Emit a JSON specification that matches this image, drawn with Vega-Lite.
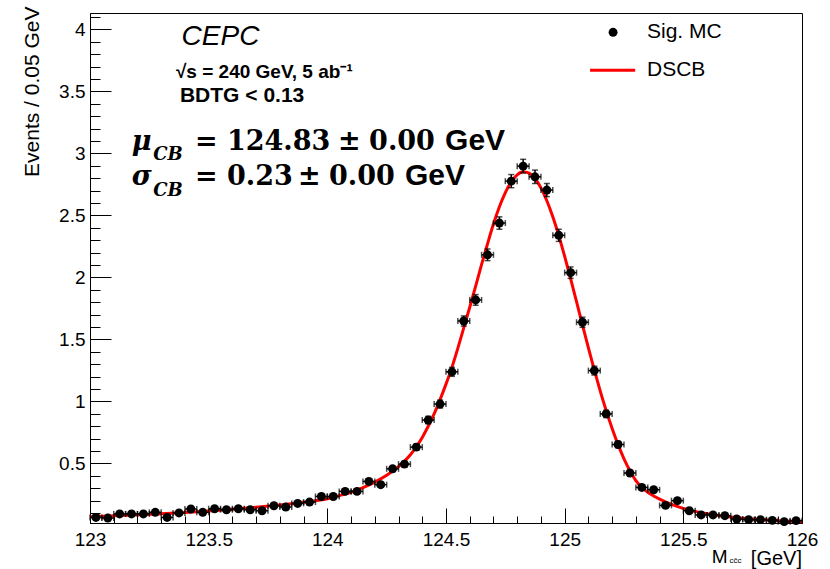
{
  "$schema": "https://vega.github.io/schema/vega-lite/v6.json",
  "width": 712,
  "height": 510,
  "autosize": {"type": "none"},
  "padding": {"left": 90, "top": 13, "right": 28, "bottom": 46},
  "background": "white",
  "config": {
    "view": {"stroke": "black", "strokeWidth": 1},
    "axis": {"domainColor": "black", "domainWidth": 1, "tickColor": "black", "tickWidth": 1, "labelColor": "black", "labelFont": "Liberation Sans", "labelFontSize": 19, "grid": false, "titleColor": "black"}
  },
  "datasets": {
    "bins": [
      {"x": 123.025, "y": 0.065, "lo": 0.057, "hi": 0.073, "xlo": 123.0, "xhi": 123.05},
      {"x": 123.075, "y": 0.060, "lo": 0.052, "hi": 0.068, "xlo": 123.05, "xhi": 123.1},
      {"x": 123.125, "y": 0.093, "lo": 0.083, "hi": 0.103, "xlo": 123.1, "xhi": 123.15},
      {"x": 123.175, "y": 0.093, "lo": 0.083, "hi": 0.103, "xlo": 123.15, "xhi": 123.2},
      {"x": 123.225, "y": 0.093, "lo": 0.083, "hi": 0.103, "xlo": 123.2, "xhi": 123.25},
      {"x": 123.275, "y": 0.106, "lo": 0.096, "hi": 0.116, "xlo": 123.25, "xhi": 123.3},
      {"x": 123.325, "y": 0.065, "lo": 0.057, "hi": 0.073, "xlo": 123.3, "xhi": 123.35},
      {"x": 123.375, "y": 0.101, "lo": 0.091, "hi": 0.111, "xlo": 123.35, "xhi": 123.4},
      {"x": 123.425, "y": 0.133, "lo": 0.121, "hi": 0.145, "xlo": 123.4, "xhi": 123.45},
      {"x": 123.475, "y": 0.106, "lo": 0.096, "hi": 0.116, "xlo": 123.45, "xhi": 123.5},
      {"x": 123.525, "y": 0.135, "lo": 0.123, "hi": 0.147, "xlo": 123.5, "xhi": 123.55},
      {"x": 123.575, "y": 0.127, "lo": 0.116, "hi": 0.138, "xlo": 123.55, "xhi": 123.6},
      {"x": 123.625, "y": 0.135, "lo": 0.123, "hi": 0.147, "xlo": 123.6, "xhi": 123.65},
      {"x": 123.675, "y": 0.127, "lo": 0.116, "hi": 0.138, "xlo": 123.65, "xhi": 123.7},
      {"x": 123.725, "y": 0.119, "lo": 0.108, "hi": 0.130, "xlo": 123.7, "xhi": 123.75},
      {"x": 123.775, "y": 0.159, "lo": 0.146, "hi": 0.172, "xlo": 123.75, "xhi": 123.8},
      {"x": 123.825, "y": 0.149, "lo": 0.137, "hi": 0.161, "xlo": 123.8, "xhi": 123.85},
      {"x": 123.875, "y": 0.178, "lo": 0.164, "hi": 0.192, "xlo": 123.85, "xhi": 123.9},
      {"x": 123.925, "y": 0.189, "lo": 0.175, "hi": 0.203, "xlo": 123.9, "xhi": 123.95},
      {"x": 123.975, "y": 0.234, "lo": 0.218, "hi": 0.250, "xlo": 123.95, "xhi": 124.0},
      {"x": 124.025, "y": 0.234, "lo": 0.218, "hi": 0.250, "xlo": 124.0, "xhi": 124.05},
      {"x": 124.075, "y": 0.275, "lo": 0.258, "hi": 0.292, "xlo": 124.05, "xhi": 124.1},
      {"x": 124.125, "y": 0.275, "lo": 0.258, "hi": 0.292, "xlo": 124.1, "xhi": 124.15},
      {"x": 124.175, "y": 0.355, "lo": 0.336, "hi": 0.374, "xlo": 124.15, "xhi": 124.2},
      {"x": 124.225, "y": 0.329, "lo": 0.311, "hi": 0.347, "xlo": 124.2, "xhi": 124.25},
      {"x": 124.275, "y": 0.457, "lo": 0.435, "hi": 0.479, "xlo": 124.25, "xhi": 124.3},
      {"x": 124.325, "y": 0.495, "lo": 0.473, "hi": 0.517, "xlo": 124.3, "xhi": 124.35},
      {"x": 124.375, "y": 0.632, "lo": 0.607, "hi": 0.657, "xlo": 124.35, "xhi": 124.4},
      {"x": 124.425, "y": 0.850, "lo": 0.820, "hi": 0.880, "xlo": 124.4, "xhi": 124.45},
      {"x": 124.475, "y": 0.979, "lo": 0.947, "hi": 1.011, "xlo": 124.45, "xhi": 124.5},
      {"x": 124.525, "y": 1.239, "lo": 1.203, "hi": 1.275, "xlo": 124.5, "xhi": 124.55},
      {"x": 124.575, "y": 1.649, "lo": 1.608, "hi": 1.690, "xlo": 124.55, "xhi": 124.6},
      {"x": 124.625, "y": 1.819, "lo": 1.776, "hi": 1.862, "xlo": 124.6, "xhi": 124.65},
      {"x": 124.675, "y": 2.183, "lo": 2.136, "hi": 2.230, "xlo": 124.65, "xhi": 124.7},
      {"x": 124.725, "y": 2.439, "lo": 2.389, "hi": 2.489, "xlo": 124.7, "xhi": 124.75},
      {"x": 124.775, "y": 2.777, "lo": 2.724, "hi": 2.830, "xlo": 124.75, "xhi": 124.8},
      {"x": 124.825, "y": 2.898, "lo": 2.843, "hi": 2.953, "xlo": 124.8, "xhi": 124.85},
      {"x": 124.875, "y": 2.812, "lo": 2.758, "hi": 2.866, "xlo": 124.85, "xhi": 124.9},
      {"x": 124.925, "y": 2.705, "lo": 2.652, "hi": 2.758, "xlo": 124.9, "xhi": 124.95},
      {"x": 124.975, "y": 2.340, "lo": 2.291, "hi": 2.389, "xlo": 124.95, "xhi": 125.0},
      {"x": 125.025, "y": 2.039, "lo": 1.993, "hi": 2.085, "xlo": 125.0, "xhi": 125.05},
      {"x": 125.075, "y": 1.639, "lo": 1.598, "hi": 1.680, "xlo": 125.05, "xhi": 125.1},
      {"x": 125.125, "y": 1.249, "lo": 1.213, "hi": 1.285, "xlo": 125.1, "xhi": 125.15},
      {"x": 125.175, "y": 0.900, "lo": 0.870, "hi": 0.930, "xlo": 125.15, "xhi": 125.2},
      {"x": 125.225, "y": 0.653, "lo": 0.627, "hi": 0.679, "xlo": 125.2, "xhi": 125.25},
      {"x": 125.275, "y": 0.423, "lo": 0.402, "hi": 0.444, "xlo": 125.25, "xhi": 125.3},
      {"x": 125.325, "y": 0.307, "lo": 0.289, "hi": 0.325, "xlo": 125.3, "xhi": 125.35},
      {"x": 125.375, "y": 0.288, "lo": 0.271, "hi": 0.305, "xlo": 125.35, "xhi": 125.4},
      {"x": 125.425, "y": 0.162, "lo": 0.149, "hi": 0.175, "xlo": 125.4, "xhi": 125.45},
      {"x": 125.475, "y": 0.200, "lo": 0.186, "hi": 0.214, "xlo": 125.45, "xhi": 125.5},
      {"x": 125.525, "y": 0.119, "lo": 0.108, "hi": 0.130, "xlo": 125.5, "xhi": 125.55},
      {"x": 125.575, "y": 0.085, "lo": 0.076, "hi": 0.094, "xlo": 125.55, "xhi": 125.6},
      {"x": 125.625, "y": 0.085, "lo": 0.076, "hi": 0.094, "xlo": 125.6, "xhi": 125.65},
      {"x": 125.675, "y": 0.079, "lo": 0.070, "hi": 0.088, "xlo": 125.65, "xhi": 125.7},
      {"x": 125.725, "y": 0.052, "lo": 0.045, "hi": 0.059, "xlo": 125.7, "xhi": 125.75},
      {"x": 125.775, "y": 0.047, "lo": 0.040, "hi": 0.054, "xlo": 125.75, "xhi": 125.8},
      {"x": 125.825, "y": 0.047, "lo": 0.040, "hi": 0.054, "xlo": 125.8, "xhi": 125.85},
      {"x": 125.875, "y": 0.041, "lo": 0.035, "hi": 0.047, "xlo": 125.85, "xhi": 125.9},
      {"x": 125.925, "y": 0.031, "lo": 0.025, "hi": 0.037, "xlo": 125.9, "xhi": 125.95},
      {"x": 125.975, "y": 0.039, "lo": 0.033, "hi": 0.045, "xlo": 125.95, "xhi": 126.0}
    ],
    "curve": [
      {"m": 123.0, "f": 0.071}, {"m": 123.1, "f": 0.078}, {"m": 123.2, "f": 0.086}, {"m": 123.3, "f": 0.095},
      {"m": 123.4, "f": 0.105}, {"m": 123.5, "f": 0.117}, {"m": 123.6, "f": 0.131}, {"m": 123.7, "f": 0.147},
      {"m": 123.8, "f": 0.166}, {"m": 123.9, "f": 0.188}, {"m": 124.0, "f": 0.215}, {"m": 124.05, "f": 0.240},
      {"m": 124.1, "f": 0.268}, {"m": 124.15, "f": 0.305}, {"m": 124.2, "f": 0.350}, {"m": 124.25, "f": 0.405},
      {"m": 124.3, "f": 0.475}, {"m": 124.35, "f": 0.570}, {"m": 124.375, "f": 0.635}, {"m": 124.4, "f": 0.710},
      {"m": 124.425, "f": 0.800}, {"m": 124.45, "f": 0.900}, {"m": 124.475, "f": 1.015}, {"m": 124.5, "f": 1.140},
      {"m": 124.525, "f": 1.275}, {"m": 124.55, "f": 1.430}, {"m": 124.575, "f": 1.595}, {"m": 124.6, "f": 1.760},
      {"m": 124.625, "f": 1.930}, {"m": 124.65, "f": 2.105}, {"m": 124.675, "f": 2.272}, {"m": 124.7, "f": 2.431},
      {"m": 124.725, "f": 2.570}, {"m": 124.75, "f": 2.685}, {"m": 124.775, "f": 2.772}, {"m": 124.8, "f": 2.828},
      {"m": 124.825, "f": 2.852}, {"m": 124.85, "f": 2.841}, {"m": 124.875, "f": 2.798}, {"m": 124.9, "f": 2.723},
      {"m": 124.925, "f": 2.619}, {"m": 124.95, "f": 2.489}, {"m": 124.975, "f": 2.338}, {"m": 125.0, "f": 2.171},
      {"m": 125.025, "f": 1.991}, {"m": 125.05, "f": 1.805}, {"m": 125.075, "f": 1.617}, {"m": 125.1, "f": 1.432},
      {"m": 125.125, "f": 1.253}, {"m": 125.15, "f": 1.084}, {"m": 125.175, "f": 0.926}, {"m": 125.2, "f": 0.782},
      {"m": 125.225, "f": 0.652}, {"m": 125.25, "f": 0.538}, {"m": 125.275, "f": 0.441}, {"m": 125.3, "f": 0.362},
      {"m": 125.325, "f": 0.308}, {"m": 125.35, "f": 0.268}, {"m": 125.375, "f": 0.238}, {"m": 125.4, "f": 0.212},
      {"m": 125.45, "f": 0.170}, {"m": 125.5, "f": 0.138}, {"m": 125.55, "f": 0.114}, {"m": 125.6, "f": 0.095},
      {"m": 125.65, "f": 0.080}, {"m": 125.7, "f": 0.068}, {"m": 125.8, "f": 0.050}, {"m": 125.9, "f": 0.039},
      {"m": 126.0, "f": 0.031}
    ]
  },
  "layer": [
    {
      "data": {"name": "curve"},
      "mark": {"type": "line", "color": "#ff0000", "strokeWidth": 3, "interpolate": "monotone"},
      "encoding": {
        "x": {"field": "m", "type": "quantitative", "title": null, "scale": {"domain": [123, 126], "nice": false, "zero": false},
          "axis": {"title": null, "tickCount": 100, "values": [123, 123.1, 123.2, 123.3, 123.4, 123.5, 123.6, 123.7, 123.8, 123.9, 124, 124.1, 124.2, 124.3, 124.4, 124.5, 124.6, 124.7, 124.8, 124.9, 125, 125.1, 125.2, 125.3, 125.4, 125.5, 125.6, 125.7, 125.8, 125.9, 126],
            "format": "~g",
            "labelExpr": "abs(datum.value*2 - round(datum.value*2)) < 0.001 ? datum.label : ''",
            "tickSize": {"condition": {"test": "abs(datum.value*2 - round(datum.value*2)) < 0.001", "value": -15}, "value": -7},
            "labelPadding": 22, "labelFlush": false, "labelOverlap": false}},
        "y": {"field": "f", "type": "quantitative", "title": "Events / 0.05 GeV", "scale": {"domain": [0.02, 4.133], "nice": false, "zero": false},
          "axis": {"title": "Events / 0.05 GeV", "titleFont": "Liberation Sans", "titleFontWeight": "normal", "titleFontSize": 21,
            "titleAngle": -90, "titleAlign": "right", "titleBaseline": "middle", "titleX": -58, "titleY": -7,
            "tickCount": 100,
            "values": [0.1, 0.2, 0.3, 0.4, 0.5, 0.6, 0.7, 0.8, 0.9, 1, 1.1, 1.2, 1.3, 1.4, 1.5, 1.6, 1.7, 1.8, 1.9, 2, 2.1, 2.2, 2.3, 2.4, 2.5, 2.6, 2.7, 2.8, 2.9, 3, 3.1, 3.2, 3.3, 3.4, 3.5, 3.6, 3.7, 3.8, 3.9, 4, 4.1],
            "format": "~g",
            "labelExpr": "abs(datum.value*2 - round(datum.value*2)) < 0.001 ? datum.label : ''",
            "tickSize": {"condition": {"test": "abs(datum.value*2 - round(datum.value*2)) < 0.001", "value": -21}, "value": -10},
            "labelPadding": 26, "labelFlush": false, "labelOverlap": false}}
      }
    },
    {
      "data": {"name": "bins"},
      "mark": {"type": "errorbar", "ticks": {"size": 6}, "thickness": 1.5, "color": "black"},
      "encoding": {
        "x": {"field": "x", "type": "quantitative", "title": null, "scale": {"domain": [123, 126], "nice": false, "zero": false}},
        "y": {"field": "lo", "type": "quantitative", "title": "Events / 0.05 GeV", "scale": {"domain": [0.02, 4.133], "nice": false, "zero": false}},
        "y2": {"field": "hi"}
      }
    },
    {
      "data": {"name": "bins"},
      "mark": {"type": "errorbar", "ticks": {"size": 6}, "thickness": 1.5, "color": "black"},
      "encoding": {
        "x": {"field": "xlo", "type": "quantitative", "title": null, "scale": {"domain": [123, 126], "nice": false, "zero": false}},
        "x2": {"field": "xhi"},
        "y": {"field": "y", "type": "quantitative", "title": "Events / 0.05 GeV", "scale": {"domain": [0.02, 4.133], "nice": false, "zero": false}}
      }
    },
    {
      "data": {"name": "bins"},
      "mark": {"type": "circle", "size": 80, "color": "black", "opacity": 1},
      "encoding": {
        "x": {"field": "x", "type": "quantitative", "title": null, "scale": {"domain": [123, 126], "nice": false, "zero": false}},
        "y": {"field": "y", "type": "quantitative", "title": "Events / 0.05 GeV", "scale": {"domain": [0.02, 4.133], "nice": false, "zero": false}}
      }
    },
    {
      "data": {"values": [{}]},
      "mark": {"type": "text", "text": "CEPC", "font": "Liberation Sans", "fontStyle": "italic", "fontSize": 28, "align": "left", "baseline": "alphabetic", "color": "black"},
      "encoding": {"x": {"datum": 123.386, "type": "quantitative"}, "y": {"datum": 3.872, "type": "quantitative"}}
    },
    {
      "data": {"values": [{}]},
      "mark": {"type": "text", "text": "√s = 240 GeV, 5 ab⁻¹", "font": "Liberation Sans", "fontWeight": "bold", "fontSize": 19, "align": "left", "baseline": "alphabetic", "color": "black"},
      "encoding": {"x": {"datum": 123.362, "type": "quantitative"}, "y": {"datum": 3.607, "type": "quantitative"}}
    },
    {
      "data": {"values": [{}]},
      "mark": {"type": "text", "text": "BDTG < 0.13", "font": "Liberation Sans", "fontWeight": "bold", "fontSize": 21, "align": "left", "baseline": "alphabetic", "color": "black"},
      "encoding": {"x": {"datum": 123.379, "type": "quantitative"}, "y": {"datum": 3.416, "type": "quantitative"}}
    },
    {
      "data": {"values": [{}]},
      "mark": {"type": "text", "text": "μ", "font": "DejaVu Serif", "fontWeight": "bold", "fontStyle": "italic", "fontSize": 27, "align": "left", "baseline": "alphabetic", "color": "black"},
      "encoding": {"x": {"datum": 123.176, "type": "quantitative"}, "y": {"datum": 3.027, "type": "quantitative"}}
    },
    {
      "data": {"values": [{}]},
      "mark": {"type": "text", "text": "CB", "font": "DejaVu Serif", "fontWeight": "bold", "fontStyle": "italic", "fontSize": 18, "align": "left", "baseline": "alphabetic", "color": "black"},
      "encoding": {"x": {"datum": 123.266, "type": "quantitative"}, "y": {"datum": 2.946, "type": "quantitative"}}
    },
    {
      "data": {"values": [{}]},
      "mark": {"type": "text", "text": "=", "font": "DejaVu Serif", "fontWeight": "bold", "fontSize": 27, "align": "left", "baseline": "alphabetic", "color": "black"},
      "encoding": {"x": {"datum": 123.442, "type": "quantitative"}, "y": {"datum": 3.027, "type": "quantitative"}}
    },
    {
      "data": {"values": [{}]},
      "mark": {"type": "text", "text": "124.83", "font": "DejaVu Serif", "fontWeight": "bold", "fontSize": 27, "align": "left", "baseline": "alphabetic", "color": "black"},
      "encoding": {"x": {"datum": 123.577, "type": "quantitative"}, "y": {"datum": 3.027, "type": "quantitative"}}
    },
    {
      "data": {"values": [{}]},
      "mark": {"type": "text", "text": "±", "font": "DejaVu Serif", "fontWeight": "bold", "fontSize": 27, "align": "left", "baseline": "alphabetic", "color": "black"},
      "encoding": {"x": {"datum": 124.045, "type": "quantitative"}, "y": {"datum": 3.027, "type": "quantitative"}}
    },
    {
      "data": {"values": [{}]},
      "mark": {"type": "text", "text": "0.00", "font": "DejaVu Serif", "fontWeight": "bold", "fontSize": 27, "align": "left", "baseline": "alphabetic", "color": "black"},
      "encoding": {"x": {"datum": 124.176, "type": "quantitative"}, "y": {"datum": 3.027, "type": "quantitative"}}
    },
    {
      "data": {"values": [{}]},
      "mark": {"type": "text", "text": "GeV", "font": "Liberation Sans", "fontWeight": "bold", "fontSize": 30, "align": "left", "baseline": "alphabetic", "color": "black"},
      "encoding": {"x": {"datum": 124.496, "type": "quantitative"}, "y": {"datum": 3.027, "type": "quantitative"}}
    },
    {
      "data": {"values": [{}]},
      "mark": {"type": "text", "text": "σ", "font": "DejaVu Serif", "fontWeight": "bold", "fontStyle": "italic", "fontSize": 27, "align": "left", "baseline": "alphabetic", "color": "black"},
      "encoding": {"x": {"datum": 123.176, "type": "quantitative"}, "y": {"datum": 2.745, "type": "quantitative"}}
    },
    {
      "data": {"values": [{}]},
      "mark": {"type": "text", "text": "CB", "font": "DejaVu Serif", "fontWeight": "bold", "fontStyle": "italic", "fontSize": 18, "align": "left", "baseline": "alphabetic", "color": "black"},
      "encoding": {"x": {"datum": 123.266, "type": "quantitative"}, "y": {"datum": 2.656, "type": "quantitative"}}
    },
    {
      "data": {"values": [{}]},
      "mark": {"type": "text", "text": "=", "font": "DejaVu Serif", "fontWeight": "bold", "fontSize": 27, "align": "left", "baseline": "alphabetic", "color": "black"},
      "encoding": {"x": {"datum": 123.442, "type": "quantitative"}, "y": {"datum": 2.745, "type": "quantitative"}}
    },
    {
      "data": {"values": [{}]},
      "mark": {"type": "text", "text": "0.23", "font": "DejaVu Serif", "fontWeight": "bold", "fontSize": 27, "align": "left", "baseline": "alphabetic", "color": "black"},
      "encoding": {"x": {"datum": 123.577, "type": "quantitative"}, "y": {"datum": 2.745, "type": "quantitative"}}
    },
    {
      "data": {"values": [{}]},
      "mark": {"type": "text", "text": "±", "font": "DejaVu Serif", "fontWeight": "bold", "fontSize": 27, "align": "left", "baseline": "alphabetic", "color": "black"},
      "encoding": {"x": {"datum": 123.876, "type": "quantitative"}, "y": {"datum": 2.745, "type": "quantitative"}}
    },
    {
      "data": {"values": [{}]},
      "mark": {"type": "text", "text": "0.00", "font": "DejaVu Serif", "fontWeight": "bold", "fontSize": 27, "align": "left", "baseline": "alphabetic", "color": "black"},
      "encoding": {"x": {"datum": 124.007, "type": "quantitative"}, "y": {"datum": 2.745, "type": "quantitative"}}
    },
    {
      "data": {"values": [{}]},
      "mark": {"type": "text", "text": "GeV", "font": "Liberation Sans", "fontWeight": "bold", "fontSize": 30, "align": "left", "baseline": "alphabetic", "color": "black"},
      "encoding": {"x": {"datum": 124.327, "type": "quantitative"}, "y": {"datum": 2.745, "type": "quantitative"}}
    },
    {
      "data": {"values": [{}]},
      "mark": {"type": "point", "shape": "circle", "filled": true, "size": 80, "color": "black", "opacity": 1},
      "encoding": {"x": {"datum": 125.204, "type": "quantitative"}, "y": {"datum": 3.977, "type": "quantitative"}}
    },
    {
      "data": {"values": [{}]},
      "mark": {"type": "text", "text": "Sig. MC", "font": "Liberation Sans", "fontSize": 21, "align": "left", "baseline": "middle", "color": "black"},
      "encoding": {"x": {"datum": 125.347, "type": "quantitative"}, "y": {"datum": 3.977, "type": "quantitative"}}
    },
    {
      "data": {"values": [{}]},
      "mark": {"type": "rule", "color": "#ff0000", "strokeWidth": 3},
      "encoding": {"x": {"datum": 125.107, "type": "quantitative"}, "x2": {"datum": 125.297}, "y": {"datum": 3.671, "type": "quantitative"}}
    },
    {
      "data": {"values": [{}]},
      "mark": {"type": "text", "text": "DSCB", "font": "Liberation Sans", "fontSize": 21, "align": "left", "baseline": "middle", "color": "black"},
      "encoding": {"x": {"datum": 125.347, "type": "quantitative"}, "y": {"datum": 3.671, "type": "quantitative"}}
    },
    {
      "data": {"values": [{}]},
      "mark": {"type": "text", "text": "M", "font": "Liberation Sans", "fontSize": 19, "align": "left", "baseline": "alphabetic", "color": "black"},
      "encoding": {"x": {"datum": 125.62, "type": "quantitative"}, "y": {"datum": -0.3, "type": "quantitative"}}
    },
    {
      "data": {"values": [{}]},
      "mark": {"type": "text", "text": "cc̄c", "font": "Liberation Sans", "fontSize": 8, "align": "left", "baseline": "alphabetic", "color": "black"},
      "encoding": {"x": {"datum": 125.694, "type": "quantitative"}, "y": {"datum": -0.3, "type": "quantitative"}}
    },
    {
      "data": {"values": [{}]},
      "mark": {"type": "text", "text": "[GeV]", "font": "Liberation Sans", "fontSize": 20, "align": "right", "baseline": "alphabetic", "color": "black"},
      "encoding": {"x": {"datum": 126.0, "type": "quantitative"}, "y": {"datum": -0.318, "type": "quantitative"}}
    }
  ]
}
